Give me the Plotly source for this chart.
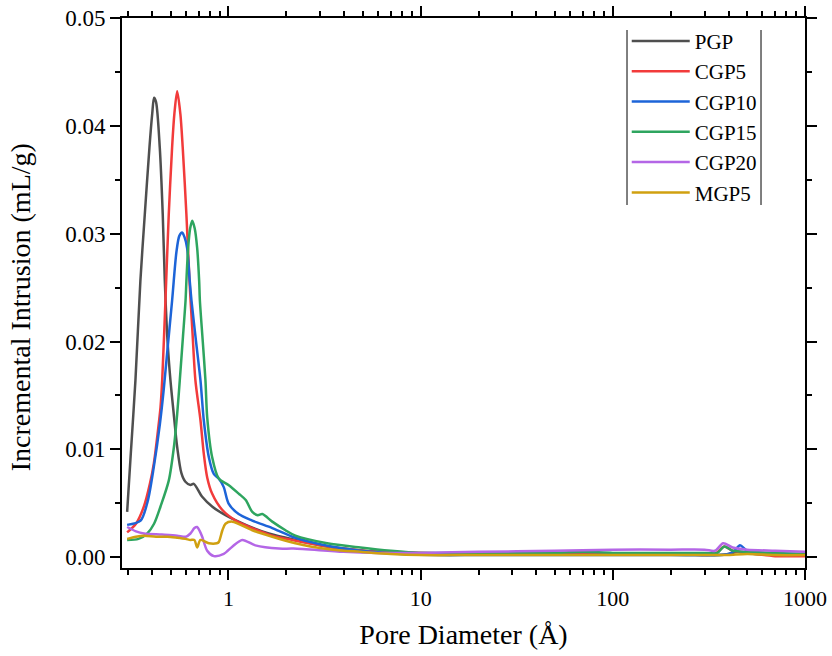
import plotly.graph_objects as go

# ---------------- data ----------------
series_names = ["PGP", "CGP5", "CGP10", "CGP15", "CGP20", "MGP5"]
series_colors = ["#4f4f4f", "#f23b3b", "#1d64d8", "#2ea55f", "#b466e6", "#d0a010"]

pgp_x = [0.297, 0.31, 0.328, 0.348, 0.367, 0.388, 0.401, 0.41, 0.42, 0.439, 0.455, 0.466,
         0.482, 0.499, 0.519, 0.541, 0.569, 0.597, 0.634, 0.66, 0.73, 0.822, 0.965, 1.23,
         1.62, 2.23, 3.26, 4.5, 6, 10, 20, 50, 100, 200, 300, 360, 400, 450, 550, 700, 1000]
pgp_y = [0.0042, 0.0095, 0.0164, 0.0256, 0.0318, 0.0380, 0.0411, 0.0426, 0.0422, 0.0380, 0.0318, 0.0258,
         0.0200, 0.0164, 0.0133, 0.0102, 0.0078, 0.0070, 0.0067, 0.0068, 0.0056, 0.0047, 0.0039, 0.0030,
         0.0022, 0.0016, 0.0010, 0.0007, 0.0005, 0.0004, 0.0003, 0.0003, 0.0003, 0.0003, 0.0002, 0.0002,
         0.0003, 0.0005, 0.0003, 0.0002, 0.0002]

cgp5_x = [0.297, 0.33, 0.363, 0.39, 0.409, 0.43, 0.443, 0.452, 0.47, 0.489, 0.509, 0.523, 0.541,
          0.562, 0.578, 0.604, 0.627, 0.65, 0.673, 0.715, 0.744, 0.775, 0.822, 0.927, 1.09, 1.33,
          1.69, 2.15, 3.26, 4.5, 6, 10, 20, 50, 100, 200, 340, 380, 420, 500, 700, 1000]
cgp5_y = [0.0023, 0.0031, 0.0047, 0.0068, 0.0087, 0.0118, 0.0139, 0.0164, 0.0238, 0.0318, 0.0380, 0.0411, 0.0432,
          0.0411, 0.0380, 0.0318, 0.0256, 0.0208, 0.0164, 0.0127, 0.0096, 0.0074, 0.0059, 0.0044, 0.0034, 0.0027,
          0.0020, 0.0016, 0.0010, 0.0007, 0.0005, 0.0004, 0.0003, 0.0003, 0.0003, 0.0003, 0.0003, 0.0010, 0.0006,
          0.0004, 0.0001, 0.0001]

cgp10_x = [0.297, 0.349, 0.38, 0.409, 0.44, 0.46, 0.48, 0.509, 0.519, 0.536, 0.555, 0.574, 0.59,
           0.609, 0.629, 0.642, 0.68, 0.715, 0.744, 0.79, 0.84, 0.89, 0.945, 1.0, 1.13, 1.33, 1.69, 2.15,
           3.0, 3.97, 5.5, 8, 12, 20, 50, 100, 200, 350, 400, 430, 459, 500, 600, 1000]
cgp10_y = [0.0030, 0.0034, 0.0052, 0.0084, 0.0124, 0.0155, 0.0190, 0.0238, 0.0256, 0.0283, 0.0298, 0.0301, 0.0297,
           0.0287, 0.0256, 0.0238, 0.0198, 0.0164, 0.0127, 0.0093, 0.0077, 0.0073, 0.0065, 0.0050, 0.0040, 0.0034, 0.0027, 0.0019,
           0.0012, 0.0008, 0.0005, 0.0003, 0.0002, 0.0002, 0.0002, 0.0002, 0.0002, 0.0002, 0.0003, 0.0006, 0.0011, 0.0006, 0.0004, 0.0003]

cgp15_x = [0.297, 0.34, 0.378, 0.41, 0.443, 0.489, 0.52, 0.541, 0.558, 0.58, 0.598, 0.604, 0.617, 0.632,
           0.648, 0.667, 0.687, 0.704, 0.71, 0.735, 0.759, 0.775, 0.822, 0.89, 1.0, 1.13, 1.23, 1.33, 1.42,
           1.50, 1.69, 1.98, 2.23, 3.26, 4.86, 7, 10, 20, 50, 70, 100, 200, 300, 350, 380, 420, 500, 700, 1000]
cgp15_y = [0.0016, 0.0017, 0.0022, 0.0031, 0.0047, 0.0071, 0.0102, 0.0133, 0.0164, 0.0205, 0.0238, 0.0256, 0.0287, 0.0305,
           0.0312, 0.0305, 0.0287, 0.0256, 0.0238, 0.0200, 0.0164, 0.0130, 0.0093, 0.0073, 0.0067, 0.0059, 0.0053, 0.0042, 0.0039,
           0.0040, 0.0033, 0.0025, 0.0020, 0.0013, 0.0009, 0.0006, 0.0004, 0.0004, 0.0004, 0.0005, 0.0004, 0.0004, 0.0004, 0.0004,
           0.0010, 0.0006, 0.0005, 0.0004, 0.0003]

cgp20_x = [0.297, 0.33, 0.363, 0.45, 0.541, 0.6, 0.634, 0.665, 0.687, 0.71, 0.73, 0.775, 0.84, 0.945,
           1.05, 1.18, 1.38, 1.83, 2.18, 3.97, 6, 10, 20, 50, 100, 200, 300, 340, 375, 420, 500, 700, 1000]
cgp20_y = [0.0028, 0.0024, 0.0022, 0.0021, 0.0020, 0.0019, 0.0022, 0.0027, 0.0028, 0.0024, 0.0019, 0.0006, 0.0001, 0.0003,
           0.0010, 0.0016, 0.0011, 0.0008, 0.0008, 0.0005, 0.0004, 0.0004, 0.0005, 0.0006, 0.0007, 0.0007, 0.0007, 0.0006,
           0.0013, 0.0009, 0.0007, 0.0006, 0.0005]

mgp5_x = [0.297, 0.33, 0.363, 0.42, 0.48, 0.541, 0.597, 0.634, 0.665, 0.687, 0.715, 0.79, 0.87, 0.89,
          0.93, 0.965, 1.045, 1.33, 1.69, 2.23, 2.67, 3.5, 4.86, 7, 10, 20, 50, 100, 200, 350, 400, 500, 700, 1000]
mgp5_y = [0.0017, 0.0019, 0.0020, 0.0019, 0.0019, 0.0018, 0.0017, 0.0016, 0.0016, 0.0009, 0.0016, 0.0013, 0.0013, 0.0014,
          0.0025, 0.0031, 0.0033, 0.0025, 0.0019, 0.0013, 0.0010, 0.0007, 0.0005, 0.0003, 0.0002, 0.0002, 0.0002, 0.0002,
          0.0002, 0.0002, 0.0002, 0.0003, 0.0002, 0.0002]

series_x = [pgp_x, cgp5_x, cgp10_x, cgp15_x, cgp20_x, mgp5_x]
series_y = [pgp_y, cgp5_y, cgp10_y, cgp15_y, cgp20_y, mgp5_y]

x_tickvals = [1, 10, 100, 1000]
x_ticktext = ["1", "10", "100", "1000"]
y_tickvals = [0.00, 0.01, 0.02, 0.03, 0.04, 0.05]
y_ticktext = ["0.00", "0.01", "0.02", "0.03", "0.04", "0.05"]

x_title = "Pore Diameter (Å)"
y_title = "Incremental Intrusion (mL/g)"

FONT = "Liberation Serif, Times New Roman, serif"

fig = go.Figure()
for name, color, xs, ys in zip(series_names, series_colors, series_x, series_y):
    fig.add_trace(go.Scatter(x=xs, y=ys, mode="lines", name=name,
                             line=dict(color=color, width=2.5, shape="spline", smoothing=0.8)))

fig.update_layout(
    width=832, height=656,
    margin=dict(l=122, r=27, t=18, b=88, autoexpand=False),
    paper_bgcolor="white", plot_bgcolor="white",
    font=dict(family=FONT, color="black", size=22),
    showlegend=True,
    legend=dict(x=0.739, y=0.995, xanchor="left", yanchor="top",
                font=dict(family=FONT, size=21, color="black"),
                bgcolor="rgba(0,0,0,0)", borderwidth=0, itemwidth=58,
                tracegroupgap=0),
    xaxis=dict(type="log", range=[-0.554, 3.0], automargin=False,
               tickmode="array", tickvals=x_tickvals, ticktext=x_ticktext,
               ticks="outside", ticklen=10, tickwidth=1.5, tickcolor="black",
               minor=dict(ticks="outside", ticklen=5, tickwidth=1.5, tickcolor="black", dtick="D1", showgrid=False),
               showline=True, linewidth=2, linecolor="black", mirror="allticks",
               showgrid=False, zeroline=False,
               tickfont=dict(family=FONT, size=22),
               title=dict(text=x_title, font=dict(family=FONT, size=28), standoff=14)),
    yaxis=dict(range=[-0.001, 0.05], automargin=False,
               tickmode="array", tickvals=y_tickvals, ticktext=y_ticktext,
               ticks="outside", ticklen=10, tickwidth=1.5, tickcolor="black",
               minor=dict(ticks="outside", ticklen=5, tickwidth=1.5, tickcolor="black", dtick=0.005, showgrid=False),
               showline=True, linewidth=2, linecolor="black", mirror="allticks",
               showgrid=False, zeroline=False,
               tickfont=dict(family=FONT, size=23)),
    annotations=[
        dict(text=y_title, xref="paper", yref="paper", x=-0.149, y=0.4745,
             xanchor="center", yanchor="middle", textangle=-90, showarrow=False,
             font=dict(family=FONT, size=28, color="black")),
    ],
    shapes=[
        dict(type="line", xref="paper", yref="paper", x0=0.7394, x1=0.7394, y0=0.66, y1=0.978,
             line=dict(color="#555555", width=1.5)),
        dict(type="line", xref="paper", yref="paper", x0=0.9356, x1=0.9356, y0=0.66, y1=0.978,
             line=dict(color="#555555", width=1.5)),
    ],
)

fig.write_html("out.html")
